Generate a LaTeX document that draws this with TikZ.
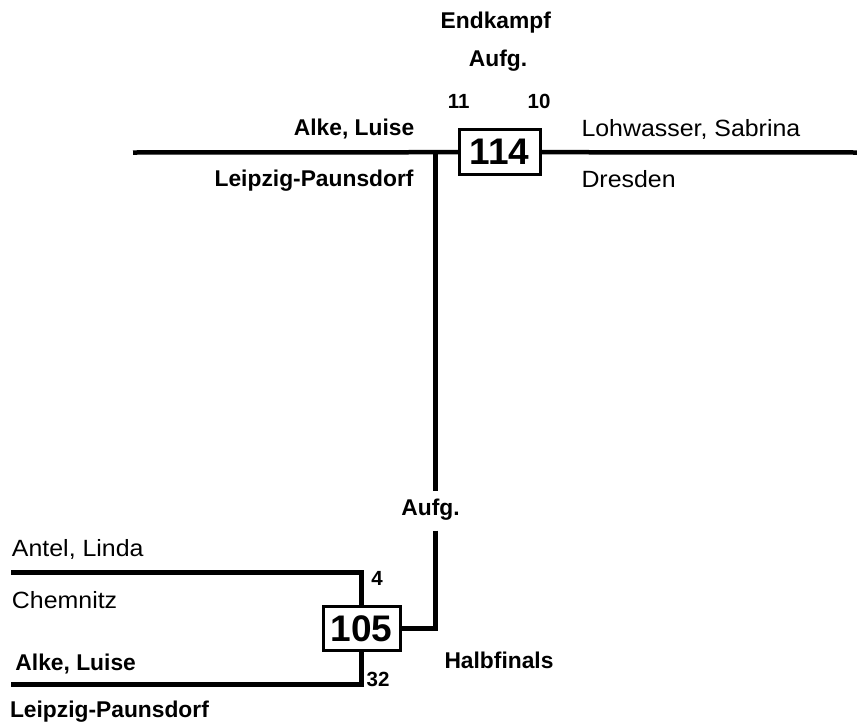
\documentclass[tikz,border=0pt]{standalone}
\usepackage{fontspec}
\setmainfont{Liberation Sans}
\newfontfamily\regfont[FakeStretch=1.06]{Liberation Sans}
\begin{document}
\begin{tikzpicture}[x=1pt,y=1pt,
  reg/.style={inner sep=0pt,outer sep=0pt,font=\regfont\fontsize{23.5}{28}\selectfont},
  bld/.style={inner sep=0pt,outer sep=0pt,font=\bfseries\fontsize{22.8}{26}\selectfont},
  num/.style={inner sep=0pt,outer sep=0pt,font=\bfseries\fontsize{20.5}{23}\selectfont},
  matchbox/.style={draw,line width=3pt,inner sep=0pt,outer sep=0pt,font=\bfseries\fontsize{37}{37}\selectfont},
  bracket/.style={line width=4.5pt,line join=miter}]
\useasboundingbox (0,0) rectangle (857,-726);
% match boxes
\node[matchbox,minimum width=81pt,minimum height=45pt] (b114) at (499.5,-152.2) {114};
\node[matchbox,minimum width=77pt,minimum height=44pt] (b105) at (361.7,-628.3) {105};
% coordinates
\coordinate (tl) at (133,-152.5);
\coordinate (tr) at (857,-152.5);
\coordinate (j) at (435.7,-152.5);
\coordinate (vtop) at (435.7,-491);
\coordinate (vbot) at (435.7,-530.7);
\coordinate (corner) at (435.7,-628.3);
\coordinate (al) at (11,-572.3);
\coordinate (ar) at (361.7,-572.3);
\coordinate (bl) at (11,-684.3);
\coordinate (br) at (361.7,-684.3);
% connectors
\draw[bracket] (tl) -- (b114.west);
\draw[bracket] (b114.east) -- (tr);
\draw[bracket] (j) -- (vtop);
\draw[bracket] (vbot) -- (corner) -- (b105.east);
\draw[bracket] (al) -- (ar) -- (b105.north);
\draw[bracket] (bl) -- (br) -- (b105.south);
% labels top
\node[bld,anchor=base] (endk) at (495.8,-28.3) {Endkampf};
\node[bld,anchor=base] (aufg1) at (498,-66.7) {Aufg.};
\node[num,anchor=base] (n11) at (458.7,-108.3) {11};
\node[num,anchor=base] (n10) at (539,-108.3) {10};
\node[bld,anchor=base east] (alke1) at (414.3,-135) {Alke, Luise};
\node[bld,anchor=base east] (leip1) at (413.5,-186) {Leipzig-Paunsdorf};
\node[reg,anchor=base west] (lohw) at (581.5,-136.7) {Lohwasser, Sabrina};
\node[reg,anchor=base west] (dres) at (581.5,-187.7) {Dresden};
% labels bottom
\node[bld,anchor=base] (aufg2) at (430.5,-515) {Aufg.};
\node[reg,anchor=base west] (antel) at (12,-556.7) {Antel, Linda};
\node[reg,anchor=base west] (chem) at (12,-608.3) {Chemnitz};
\node[bld,anchor=base west] (alke2) at (15.5,-670) {Alke, Luise};
\node[bld,anchor=base west] (leip2) at (10,-717.7) {Leipzig-Paunsdorf};
\node[num,anchor=base] (n4) at (377,-585) {4};
\node[num,anchor=base] (n32) at (378,-686) {32};
\node[bld,anchor=base west] (halb) at (444.5,-668) {Halbfinals};
\end{tikzpicture}
\end{document}
